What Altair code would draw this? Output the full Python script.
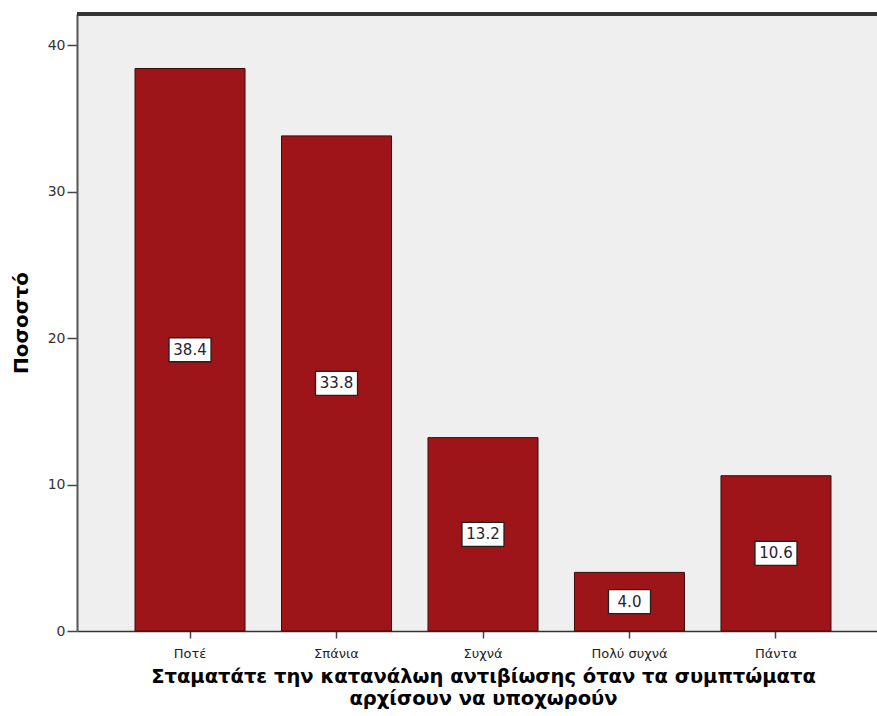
import altair as alt
import pandas as pd

# Survey answers and percentages
categories = ["Ποτέ", "Σπάνια", "Συχνά", "Πολύ συχνά", "Πάντα"]
percentages = [38.4, 33.8, 13.2, 4.0, 10.6]

df = pd.DataFrame({"answer": categories, "pct": percentages})
df["mid"] = df["pct"] / 2
df["label"] = df["pct"].map(lambda v: f"{v:.1f}")

FONT = "DejaVu Sans"
x_title = ["Σταματάτε την κατανάλωη αντιβίωσης όταν τα συμπτώματα",
           "αρχίσουν να υποχωρούν"]

x_enc = alt.X(
    "answer:N",
    sort=categories,
    scale=alt.Scale(range=[0, 812], paddingInner=0.249, paddingOuter=0.396),
    axis=alt.Axis(
        title=x_title, labelAngle=0, labelFont=FONT, labelFontSize=13,
        labelColor="#222", labelPadding=9, tickSize=7, tickColor="#444",
        tickWidth=1.5, domainColor="#333", domainWidth=1.5,
        titleFont=FONT, titleFontSize=19.5, titleFontWeight="bold",
        titleColor="#000", titlePadding=7, titleLineHeight=22,
    ),
)

y_scale = alt.Scale(domain=[0, 42.12], nice=False, zero=True)

bars = alt.Chart(df).mark_bar(
    color="#9d1519", stroke="#3b0d0d", strokeWidth=1
).encode(
    x=x_enc,
    y=alt.Y(
        "pct:Q", scale=y_scale,
        axis=alt.Axis(
            title="Ποσοστό", values=[0, 10, 20, 30, 40], grid=False,
            labelFont=FONT, labelFontSize=14, labelColor="#333",
            labelPadding=2, tickSize=10, tickColor="#444", tickWidth=1.5,
            domainColor="#555", domainWidth=2,
            titleFont=FONT, titleFontSize=20, titleFontWeight="bold",
            titleColor="#000", titlePadding=16,
        ),
    ),
)

boxes = alt.Chart(df).mark_point(
    shape="M-2.1,-1.2H2.1V1.2H-2.1Z", size=400, filled=True,
    fill="white", stroke="#222", strokeWidth=1.3, opacity=1,
).encode(
    x=alt.X("answer:N", sort=categories),
    y=alt.Y("mid:Q", scale=y_scale),
)

texts = alt.Chart(df).mark_text(
    font=FONT, fontSize=15, color="#1f2230"
).encode(
    x=alt.X("answer:N", sort=categories),
    y=alt.Y("mid:Q", scale=y_scale),
    text="label:N",
)

top_border = alt.Chart(df).mark_rule(color="#333", strokeWidth=3).encode(
    x=alt.value(0), x2=alt.value(812), y=alt.value(0)
)

chart = alt.layer(bars, boxes, texts, top_border).properties(
    width=800,
    height=617,
    autosize=alt.AutoSizeParams(type="none"),
    padding={"left": 77, "top": 14, "right": 0, "bottom": 85},
    background="white",
).configure_view(
    fill="#efefef", stroke="transparent"
)

chart.save("out.html", embed_options={"renderer": "svg", "actions": False})
